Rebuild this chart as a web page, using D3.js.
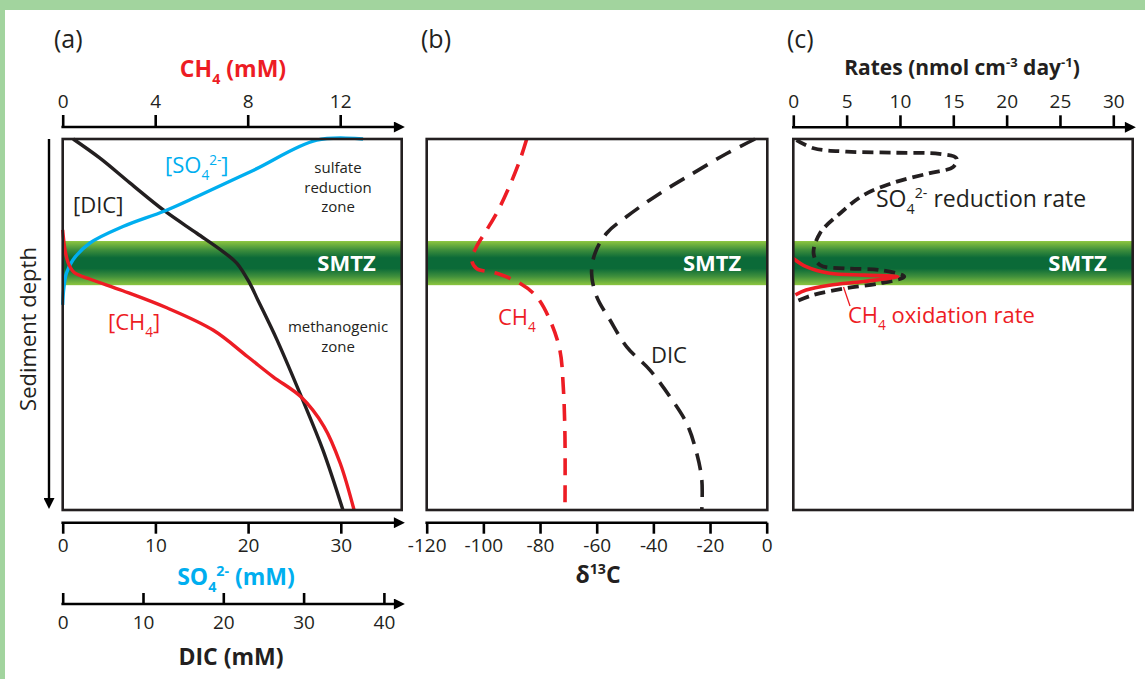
<!DOCTYPE html>
<html>
<head>
<meta charset="utf-8">
<script src="https://cdn.jsdelivr.net/npm/d3@7"></script>
<style>
  html, body { margin: 0; padding: 0; background: #a2d49e; }
  svg { display: block; }
  text { font-family: "Open Sans", "Noto Sans", sans-serif; }
</style>
</head>
<body>
<svg id="chart" width="1145" height="679"></svg>
<script>
// ---- Data (depth in arbitrary units, 0 = sediment surface, 100 = bottom of profile) ----
const smtzDepth = [27.5, 39.4];

// Panel (a): porewater concentrations
const so4Depth = [0, 0.3, 8.4, 15.5, 19.4, 23.6, 28.1, 32.6, 36.2, 40.7, 44.7];
const so4Conc  = [32.4, 27.4, 20.6, 14.5, 11.0, 6.5, 2.9, 1.1, 0.4, 0.1, 0.0];

const dicDepth = [0, 5.1, 11.9, 19.4, 25.4, 30.4, 33.5, 38.9, 43.4, 49.6, 54.2, 70.4, 83.8, 100];
const dicConc  = [1.3, 4.6, 8.4, 12.7, 16.7, 20.0, 21.7, 23.3, 24.3, 25.7, 26.7, 29.9, 32.4, 34.9];

const ch4Depth = [24.5, 29.9, 33.6, 36.0, 37.8, 40.9, 45.5, 51.5, 58.7, 64.1, 69.5, 77.5, 87.4, 100];
const ch4Conc  = [0.0, 0.1, 0.25, 0.5, 1.2, 2.6, 4.5, 6.5, 8.0, 9.1, 10.3, 11.3, 12.0, 12.6];

// Panel (b): carbon isotopes
const d13ch4Depth = [0, 5.7, 12.4, 19.1, 24.5, 29.0, 32.6, 34.9, 36.2, 38.9, 42.5, 48.8, 56.9, 66.8, 80.2, 100];
const d13ch4Value = [-84.7, -87.1, -90.6, -94.7, -98.8, -102.4, -104.1, -102.4, -95.3, -87.1, -81.2, -76.5, -73.0, -71.8, -71.2, -71.2];

const d13dicDepth = [0, 3.9, 9.2, 14.6, 20.9, 25.4, 30.8, 36.2, 42.5, 48.8, 56.0, 62.3, 69.5, 76.7, 84.7, 91.9, 100];
const d13dicValue = [-4.1, -14.1, -25.9, -37.6, -49.4, -56.5, -60.6, -61.8, -60.0, -55.3, -49.4, -41.2, -34.1, -28.2, -24.7, -22.9, -22.9];

// Panel (c): rates
const srrDepth = [0.3, 2.5, 3.4, 3.7, 4.0, 5.2, 7.5, 9.2, 11.5, 15.1, 20.0, 25.4, 30.8, 33.96, 34.9, 35.3, 37.1, 38.9, 40.2, 42.0, 43.9];
const srrRate  = [0.3, 1.9, 5.0, 9.7, 13.7, 15.3, 15.0, 12.8, 9.7, 6.6, 4.4, 2.5, 1.9, 2.5, 5.0, 8.1, 10.4, 8.1, 5.0, 1.9, 0.2];

const aomDepth = [32.2, 34.4, 36.2, 36.7, 37.1, 38.4, 39.4, 40.7, 42.0];
const aomRate  = [0.0, 1.2, 3.4, 6.6, 9.8, 6.6, 3.4, 1.2, 0.2];

// Tick labels
const ch4Ticks  = [0, 4, 8, 12];
const so4Ticks  = [0, 10, 20, 30];
const dicTicks  = [0, 10, 20, 30, 40];
const d13Ticks  = [-120, -100, -80, -60, -40, -20, 0];
const rateTicks = [0, 5, 10, 15, 20, 25, 30];

// ---- Styling ----
const RED = "#ed1c24", CYAN = "#00aeef", INK = "#231f20";
const FS = 19;        // tick label size
const LBL = 22;       // in-plot label size
const plain = d => String(d);   // ASCII hyphen for negatives

const svg = d3.select("#chart");
svg.append("rect").attr("x", 5).attr("y", 10).attr("width", 1140).attr("height", 669).attr("fill", "#fff");

const defs = svg.append("defs");
const grad = defs.append("linearGradient").attr("id", "smtzGrad")
  .attr("x1", 0).attr("y1", 0).attr("x2", 0).attr("y2", 1);
[[0, "#8dc63f"], [0.2, "#3f8f3c"], [0.38, "#0b6a38"], [0.62, "#0b6a38"], [0.8, "#3f8f3c"], [1, "#8dc63f"]]
  .forEach(([o, c]) => grad.append("stop").attr("offset", o).attr("stop-color", c));

defs.append("marker").attr("id", "arrow")
  .attr("viewBox", "0 0 10 10").attr("refX", 1).attr("refY", 5)
  .attr("markerWidth", 13).attr("markerHeight", 11).attr("markerUnits", "userSpaceOnUse")
  .attr("orient", "auto")
  .append("path").attr("d", "M0,0 L10,5 L0,10 Z").attr("fill", "#000");

// Text with sub/superscript pieces: parts = [[text, "sub"|"sup"|null], ...]
function rich(g, x, y, parts, o = {}) {
  const t = g.append("text").attr("x", x).attr("y", y)
    .attr("font-size", o.size || LBL).attr("fill", o.fill || INK)
    .attr("font-weight", o.weight || "normal")
    .attr("text-anchor", o.anchor || "start");
  const size = o.size || LBL;
  let shift = 0;
  parts.forEach(([s, kind]) => {
    const target = kind === "sub" ? size * 0.3 : kind === "sup" ? -size * 0.38 : 0;
    const ts = t.append("tspan").attr("dy", target - shift).text(s);
    if (kind) ts.attr("font-size", size * 0.62);
    shift = target;
  });
  return t;
}
// Stacked centred note, one text per line
function note(x, y, lines, lh, size) {
  lines.forEach((s, i) => svg.append("text").attr("x", x).attr("y", y + i * lh)
    .attr("text-anchor", "middle").attr("font-size", size).attr("fill", INK).text(s));
}

// ---- Shared depth scale ----
const plotTop = 139, plotBottom = 510;
const y = d3.scaleLinear().domain([0, 100]).range([plotTop, plotBottom]);

function panelFrame(x0, x1) {
  const g = svg.append("g");
  g.append("rect").attr("x", x0).attr("y", y(smtzDepth[0]))
    .attr("width", x1 - x0).attr("height", y(smtzDepth[1]) - y(smtzDepth[0]))
    .attr("fill", "url(#smtzGrad)");
  g.append("text").attr("x", x1 - 26).attr("y", (y(smtzDepth[0]) + y(smtzDepth[1])) / 2 + 8)
    .attr("text-anchor", "end").attr("font-size", 22).attr("font-weight", "bold")
    .attr("fill", "#fff").text("SMTZ");
  return g;
}
function boxOutline(x0, x1) {
  svg.append("rect").attr("x", x0).attr("y", plotTop).attr("width", x1 - x0).attr("height", plotBottom - plotTop)
    .attr("fill", "none").attr("stroke", INK).attr("stroke-width", 2.6);
}
function styleAxis(g) {
  g.select(".domain").remove();
  g.selectAll(".tick line").attr("stroke", "#000").attr("stroke-width", 2.6);
  g.selectAll(".tick text").attr("font-size", FS).attr("fill", INK)
    .style("font-family", "'Open Sans', 'Noto Sans', sans-serif");
  return g;
}
function axisLine(x0, x1, yy, arrow) {
  const l = svg.append("line").attr("x1", x0 - 1.3).attr("x2", x1).attr("y1", yy).attr("y2", yy)
    .attr("stroke", "#000").attr("stroke-width", 2.6);
  if (arrow) l.attr("marker-end", "url(#arrow)");
}
const line = (xs, ys, xScale) => d3.line()
  .x((d, i) => xScale(xs[i])).y((d, i) => y(ys[i]))
  .curve(d3.curveCatmullRom.alpha(0.5))(xs);

// ================= Panel (a) =================
const aL = 62.7, aR = 401.7;
const xCH4 = d3.scaleLinear().domain([0, 4]).range([aL, aL + 92.5]);
const xSO4 = d3.scaleLinear().domain([0, 10]).range([aL, aL + 92.7]);
const xDIC = d3.scaleLinear().domain([0, 10]).range([aL, aL + 80.3]);

panelFrame(aL, aR);
const aG = svg.append("g");
aG.append("path").attr("d", line(dicConc, dicDepth, xDIC)).attr("fill", "none").attr("stroke", INK).attr("stroke-width", 3.4);
aG.append("path").attr("d", line(so4Conc, so4Depth, xSO4)).attr("fill", "none").attr("stroke", CYAN).attr("stroke-width", 3.4);
aG.append("path").attr("d", line(ch4Conc, ch4Depth, xCH4)).attr("fill", "none").attr("stroke", RED).attr("stroke-width", 3.4);
boxOutline(aL, aR);

// top CH4 axis
const aTop = 127;
axisLine(aL, 395, aTop, true);
styleAxis(svg.append("g").attr("transform", `translate(0,${aTop})`)
  .call(d3.axisTop(xCH4).tickValues(ch4Ticks).tickSize(12).tickPadding(7).tickFormat(plain)));
rich(svg, 233, 77, [["CH"], ["4", "sub"], [" (mM)"]], { size: 23, weight: "bold", fill: RED, anchor: "middle" });

// bottom SO4 axis
const aBot1 = 522.7;
axisLine(aL, 395, aBot1, true);
styleAxis(svg.append("g").attr("transform", `translate(0,${aBot1})`)
  .call(d3.axisBottom(xSO4).tickValues(so4Ticks).tickSize(11).tickPadding(5).tickFormat(plain)));
rich(svg, 236, 585, [["SO"], ["4", "sub"], ["2-", "sup"], [" (mM)"]], { size: 23, weight: "bold", fill: CYAN, anchor: "middle" });

// bottom DIC axis (ticks point up, labels below)
const aBot2 = 604;
axisLine(aL, 395, aBot2, true);
styleAxis(svg.append("g").attr("transform", `translate(0,${aBot2})`)
  .call(d3.axisTop(xDIC).tickValues(dicTicks).tickSize(11).tickFormat(plain)))
  .selectAll(".tick text").attr("y", 12).attr("dy", "0.71em");
rich(svg, 231, 665, [["DIC (mM)"]], { size: 23, weight: "bold", anchor: "middle" });

// in-plot labels
rich(svg, 165, 173, [["[SO"], ["4", "sub"], ["2-", "sup"], ["]"]], { fill: CYAN });
rich(svg, 73, 213, [["[DIC]"]]);
rich(svg, 108, 330, [["[CH"], ["4", "sub"], ["]"]], { fill: RED });
note(338, 173, ["sulfate", "reduction", "zone"], 19.5, 15);
note(338, 332, ["methanogenic", "zone"], 19.5, 15);

// depth arrow
svg.append("line").attr("x1", 49).attr("x2", 49).attr("y1", 139).attr("y2", 499)
  .attr("stroke", "#000").attr("stroke-width", 2.4).attr("marker-end", "url(#arrow)");
svg.append("text").attr("transform", "translate(36,329) rotate(-90)").attr("text-anchor", "middle")
  .attr("font-size", 22).attr("fill", INK).text("Sediment depth");

// ================= Panel (b) =================
const bL = 426.7, bR = 767.3;
const xD13 = d3.scaleLinear().domain([-120, 0]).range([bL, 766.7]);
panelFrame(bL, bR);
svg.append("path").attr("d", line(d13dicValue, d13dicDepth, xD13)).attr("fill", "none")
  .attr("stroke", INK).attr("stroke-width", 3.6).attr("stroke-dasharray", "17 10");
svg.append("path").attr("d", line(d13ch4Value, d13ch4Depth, xD13)).attr("fill", "none")
  .attr("stroke", RED).attr("stroke-width", 3.6).attr("stroke-dasharray", "17 10");
boxOutline(bL, bR);
const bBot = 522.7;
axisLine(bL, 767.3, bBot, false);
styleAxis(svg.append("g").attr("transform", `translate(0,${bBot})`)
  .call(d3.axisBottom(xD13).tickValues(d13Ticks).tickSize(11).tickPadding(5).tickFormat(plain)));
rich(svg, 598, 583, [["δ"], ["13", "sup"], ["C"]], { size: 23, weight: "bold", anchor: "middle" });
rich(svg, 498, 325, [["CH"], ["4", "sub"]], { fill: RED });
rich(svg, 651, 363, [["DIC"]]);

// ================= Panel (c) =================
const cL = 793.3, cR = 1132.7;
const xRate = d3.scaleLinear().domain([0, 30]).range([cL, 1113.3]);
panelFrame(cL, cR);
svg.append("path").attr("d", line(srrRate, srrDepth, xRate)).attr("fill", "none")
  .attr("stroke", INK).attr("stroke-width", 3.8).attr("stroke-dasharray", "11 6");
svg.append("path").attr("d", line(aomRate, aomDepth, xRate)).attr("fill", "none")
  .attr("stroke", RED).attr("stroke-width", 3.6);
svg.append("line").attr("x1", 843.5).attr("y1", 287).attr("x2", 850).attr("y2", 306)
  .attr("stroke", RED).attr("stroke-width", 1.3);
boxOutline(cL, cR);
const cTop = 127.3;
axisLine(cL, 1126, cTop, true);
styleAxis(svg.append("g").attr("transform", `translate(0,${cTop})`)
  .call(d3.axisTop(xRate).tickValues(rateTicks).tickSize(12).tickPadding(7).tickFormat(plain)));
rich(svg, 962, 75, [["Rates (nmol cm"], ["-3", "sup"], [" day"], ["-1", "sup"], [")"]], { size: 21, weight: "bold", anchor: "middle" });
rich(svg, 876, 207, [["SO"], ["4", "sub"], ["2-", "sup"], [" reduction rate"]], { size: 23 });
rich(svg, 848, 323, [["CH"], ["4", "sub"], [" oxidation rate"]], { fill: RED });

// panel letters
rich(svg, 54, 48, [["(a)"]], { size: 25 });
rich(svg, 421, 48, [["(b)"]], { size: 25 });
rich(svg, 787, 48, [["(c)"]], { size: 25 });
</script>
</body>
</html>
